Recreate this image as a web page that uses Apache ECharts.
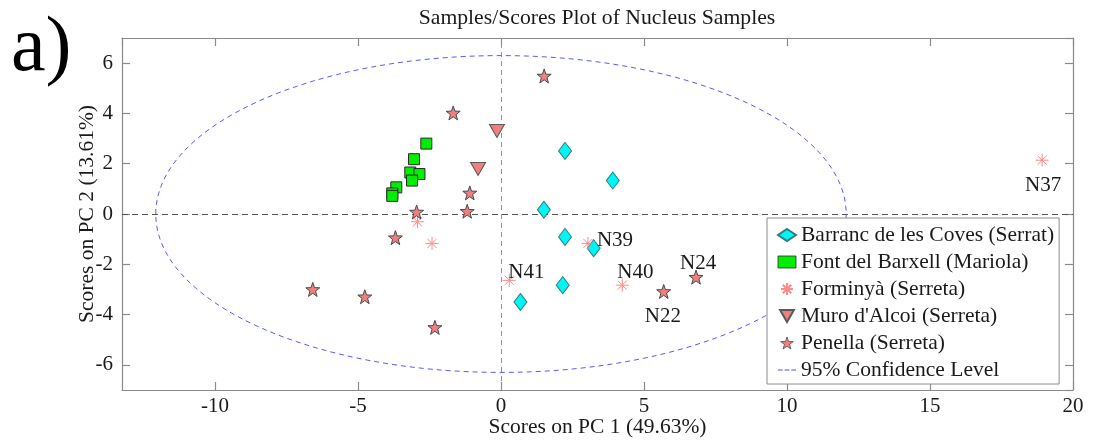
<!DOCTYPE html>
<html>
<head>
<meta charset="utf-8">
<script src="https://cdn.jsdelivr.net/npm/echarts@6/dist/echarts.min.js"></script>
<style>
html,body{margin:0;padding:0;background:#fff;}
#chart{width:1094px;height:443px;}
</style>
</head>
<body>
<div id="chart"></div>
<script>
// ---- data ----
const chartTitle = 'Samples/Scores Plot of Nucleus Samples';
const panelLetter = 'a)';
const xName = 'Scores on PC 1 (49.63%)';
const yName = 'Scores on PC 2 (13.61%)';
const seriesNames = ['Barranc de les Coves (Serrat)', 'Font del Barxell (Mariola)', 'Forminyà (Serreta)', 'Muro d\'Alcoi (Serreta)', 'Penella (Serreta)', '95% Confidence Level'];

const barranc = [[2.24,2.51],[3.91,1.33],[1.50,0.17],[2.24,-0.91],[3.24,-1.36],[2.16,-2.83],[0.68,-3.50]];
const fontBarxell = [[-2.61,2.80],[-3.04,2.18],[-3.17,1.65],[-2.85,1.59],[-3.11,1.33],[-3.66,1.06],[-3.80,0.82],[-3.80,0.72]];
const forminya = [[-2.92,-0.31],[-2.41,-1.17],[3.04,-1.17],[0.29,-2.64],[4.24,-2.83],[18.92,2.14]];
const forminyaLabels = ['','','N39','N41','N40','N37'];
const muro = [[-0.14,3.30],[-0.80,1.79]];
const penella = [[1.51,5.49],[-1.67,4.02],[-1.09,0.84],[-1.18,0.11],[-2.95,0.08],[-3.69,-0.94],[-6.58,-3.00],[-4.76,-3.29],[-2.31,-4.51],[5.69,-3.08],[6.82,-2.51]];
const penellaLabels = ['','','','','','','','','','N22','N24'];
// 95% confidence ellipse: centre x, centre y, semi-axis x, semi-axis y
const ellipse = [[0, 0, 12.07, 6.30]];
const zeroLineX = 0, zeroLineY = 0;

const xMin = -13.25, xMax = 20, xStep = 5;
const yMin = -7, yMax = 7, yStep = 2;

// ---- styles ----
const FONT = 'Liberation Serif';
const labelOffsets = {
  N39: [9, -3], N41: [-1, -8], N40: [-5, -13], N24: [-16, -14], N22: [-19, 25], N37: [-17, 25]
};
const starPath = 'path://M0,-10 L2.35,-3.24 L9.51,-3.09 L3.80,1.24 L5.88,8.09 L0,4 L-5.88,8.09 L-3.80,1.24 L-9.51,-3.09 L-2.35,-3.24 Z';
const asteriskPath = 'path://M0,-10L0,10M-10,0L10,0M-7.07,-7.07L7.07,7.07M-7.07,7.07L7.07,-7.07';
const downTriPath = 'path://M0,0 L10,0 L5,8.66 Z';
const dashPath = 'path://M0,0h5v1.2h-5z M7,0h5v1.2h-5z M14,0h5v1.2h-5z';

function withLabels(points, labels) {
  return points.map((p, i) => {
    const lab = labels[i];
    if (!lab) return { value: p };
    return {
      value: p,
      label: {
        show: true, formatter: lab, position: 'inside', align: 'left', verticalAlign: 'middle',
        offset: labelOffsets[lab], color: '#1a1a1a', fontFamily: FONT, fontSize: 21
      }
    };
  });
}

const axisCommon = {
  axisLine: { show: true, onZero: false, lineStyle: { color: '#8a8a8a', width: 1.2 } },
  axisTick: { show: true, inside: true, length: 8, lineStyle: { color: '#8a8a8a', width: 1.2 } },
  splitLine: { show: false }
};

const chart = echarts.init(document.getElementById('chart'));
chart.setOption({
  animation: false,
  backgroundColor: '#fff',
  title: {
    text: chartTitle, left: 592, top: 2, textAlign: 'center',
    textStyle: { fontFamily: FONT, fontSize: 21.7, fontWeight: 'normal', color: '#1a1a1a' }
  },
  graphic: [{
    type: 'text', x: 11, y: 89,
    style: { text: panelLetter, font: '78px "Liberation Serif"', fill: '#000', verticalAlign: 'bottom', align: 'left' }
  }],
  grid: { left: 122, right: 21, top: 38, bottom: 52, containLabel: false },
  xAxis: [
    Object.assign({
      type: 'value', position: 'bottom', min: xMin, max: xMax, minInterval: xStep, maxInterval: xStep,
      name: xName, nameLocation: 'middle', nameGap: 26, nameMoveOverlap: false,
      nameTextStyle: { fontFamily: FONT, fontSize: 21.5, color: '#1a1a1a' },
      axisLabel: { showMinLabel: false, margin: 6, fontFamily: FONT, fontSize: 21, color: '#1a1a1a' }
    }, axisCommon),
    Object.assign({
      type: 'value', position: 'top', min: xMin, max: xMax, minInterval: xStep, maxInterval: xStep,
      axisLabel: { show: false }
    }, axisCommon)
  ],
  yAxis: [
    Object.assign({
      type: 'value', position: 'left', min: yMin, max: yMax, minInterval: yStep, maxInterval: yStep,
      name: yName, nameLocation: 'middle', nameGap: 24, nameMoveOverlap: false,
      nameTextStyle: { fontFamily: FONT, fontSize: 21.5, color: '#1a1a1a' },
      axisLabel: { showMinLabel: false, showMaxLabel: false, margin: 9, fontFamily: FONT, fontSize: 21, color: '#1a1a1a' }
    }, axisCommon),
    Object.assign({
      type: 'value', position: 'right', min: yMin, max: yMax, minInterval: yStep, maxInterval: yStep,
      axisLabel: { show: false }
    }, axisCommon)
  ],
  legend: {
    orient: 'vertical', left: 767, top: 218,
    padding: [6, 5, 3, 10],
    backgroundColor: '#fff', borderColor: '#8c8c8c', borderWidth: 1, borderRadius: 0,
    itemWidth: 18, itemHeight: 12, itemGap: 5,
    textStyle: { fontFamily: FONT, fontSize: 21.5, lineHeight: 21, color: '#1a1a1a' },
    data: [
      { name: seriesNames[0] },
      { name: seriesNames[1], itemStyle: { borderWidth: 0.8 } },
      { name: seriesNames[2] },
      { name: seriesNames[3] },
      { name: seriesNames[4], itemStyle: { borderWidth: 0.8 } },
      { name: seriesNames[5], icon: dashPath, itemStyle: { color: '#4f4fff', borderWidth: 0 } }
    ],
    selectedMode: false
  },
  series: [
    {
      name: seriesNames[5], type: 'custom', xAxisIndex: 0, yAxisIndex: 0, silent: true, z: 1,
      data: ellipse,
      itemStyle: { color: '#4f4fff' },
      renderItem: function (params, api) {
        const c = api.coord([api.value(0), api.value(1)]);
        const rx = api.size([api.value(2), 0])[0];
        const ry = api.size([0, api.value(3)])[1];
        return {
          type: 'ellipse',
          shape: { cx: c[0], cy: c[1], rx: rx, ry: ry },
          style: { fill: 'none', stroke: '#5a5aff', lineWidth: 1, lineDash: [5, 4] }
        };
      },
      markLine: {
        silent: true, symbol: ['none', 'none'], label: { show: false },
        lineStyle: { color: '#555', type: [6, 4], width: 1 },
        data: [ { yAxis: zeroLineY } ]
      }
    },
    {
      name: seriesNames[0], type: 'scatter', data: barranc, z: 5,
      symbol: 'diamond', symbolSize: [13, 17],
      itemStyle: { color: '#00f5f5', borderColor: '#2f7f7f', borderWidth: 1, opacity: 1 }
    },
    {
      name: seriesNames[1], type: 'scatter', data: fontBarxell, z: 5,
      symbol: 'rect', symbolSize: 11,
      itemStyle: { color: '#00ee00', borderColor: '#2a2a2a', borderWidth: 1, opacity: 1 }
    },
    {
      name: seriesNames[2], type: 'scatter', data: withLabels(forminya, forminyaLabels), z: 5,
      symbol: asteriskPath, symbolSize: 13,
      itemStyle: { color: 'none', borderColor: '#ff8a8a', borderWidth: 1, opacity: 1 }
    },
    {
      name: seriesNames[3], type: 'scatter', data: muro, z: 5,
      symbol: downTriPath, symbolSize: [15, 13], symbolKeepAspect: false,
      itemStyle: { color: '#f08080', borderColor: '#5a5a5a', borderWidth: 1, opacity: 1 },
      markLine: {
        silent: true, symbol: ['none', 'none'], label: { show: false }, z: 1,
        lineStyle: { color: '#e0707e', type: [5, 4], width: 1, opacity: 1 },
        data: [ { xAxis: zeroLineX } ]
      }
    },
    {
      name: seriesNames[4], type: 'scatter', data: withLabels(penella, penellaLabels), z: 5,
      symbol: starPath, symbolSize: 14,
      itemStyle: { color: '#f08080', borderColor: '#4a4a4a', borderWidth: 1, opacity: 1 }
    }
  ]
});
</script>
</body>
</html>
